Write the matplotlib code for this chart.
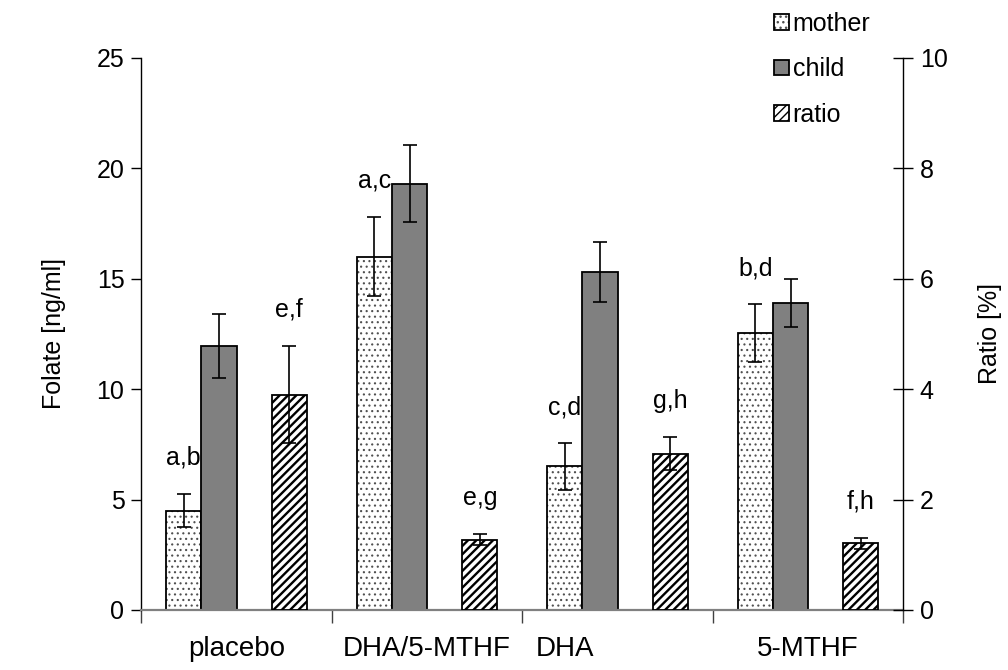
import matplotlib.pyplot as plt
import matplotlib.transforms as mtransforms
from matplotlib.legend_handler import HandlerTuple
import numpy as np

###############################################################################
#  DATA
###############################################################################
groups = ["placebo", "DHA/5-MTHF", "DHA", "5-MTHF"]

mother = [4.5, 16.0, 6.5, 12.55]
mother_err = [0.76, 1.8, 1.05, 1.3]
child = [11.95, 19.3, 15.3, 13.9]
child_err = [1.45, 1.75, 1.35, 1.1]
ratio = [3.9, 1.27, 2.83, 1.21]
ratio_err = [0.88, 0.1, 0.3, 0.1]

mother_letters = ["a,b", "a,c", "c,d", "b,d"]
ratio_letters = ["e,f", "e,g", "g,h", "f,h"]

###############################################################################
#  STYLE
###############################################################################
plt.rcParams['font.family'] = ['Liberation Sans', 'DejaVu Sans']
FONT_SIZE = 18
XLABEL_SIZE = 20
BAR_WIDTH = 0.185
ERR_KW = dict(ecolor="black", elinewidth=1.2, capsize=5, capthick=1.2)


def hatched_bars(axis, x, heights, hatch, hatch_color, hatch_lw):
    """Hatch layer drawn separately so its colour/width can differ from the outline."""
    with plt.rc_context({"hatch.linewidth": hatch_lw}):
        bars = axis.bar(x, heights, BAR_WIDTH, color="white", edgecolor=hatch_color,
                        hatch=hatch, linewidth=0)
    for p in bars:
        if hasattr(p, "set_hatch_linewidth"):
            p.set_hatch_linewidth(hatch_lw)
    return bars


x0 = np.arange(len(groups))

fig = plt.figure(figsize=(10.08, 6.70), dpi=100)
ax = fig.add_axes([0.14, 0.0896, 0.756, 0.824])
ax2 = ax.twinx()

# mother: white with grey dots
h_mother = hatched_bars(ax, x0 + 0.224, mother, "...", "#505050", 0.8)
o_mother = ax.bar(x0 + 0.224, mother, BAR_WIDTH, yerr=mother_err, fill=False,
                  edgecolor="black", linewidth=1.3, error_kw=ERR_KW)
# child: solid grey
b_child = ax.bar(x0 + 0.409, child, BAR_WIDTH, yerr=child_err, color="#808080",
                 edgecolor="black", linewidth=1.3, error_kw=ERR_KW)
# ratio: black stripes on right axis
h_ratio = hatched_bars(ax2, x0 + 0.778, ratio, "////", "black", 1.7)
o_ratio = ax2.bar(x0 + 0.778, ratio, BAR_WIDTH, yerr=ratio_err, fill=False,
                  edgecolor="black", linewidth=1.3, error_kw=ERR_KW)

# significance letters above the error bars
for i in range(len(groups)):
    ax.annotate(mother_letters[i], (x0[i] + 0.224, mother[i] + mother_err[i]),
                xytext=(0, 26), textcoords="offset points", ha="center", va="center",
                fontsize=FONT_SIZE)
    ax2.annotate(ratio_letters[i], (x0[i] + 0.778, ratio[i] + ratio_err[i]),
                 xytext=(0, 26), textcoords="offset points", ha="center", va="center",
                 fontsize=FONT_SIZE)

# axes limits / ticks
ax.set_xlim(0, len(groups))
ax.set_ylim(0, 25)
ax2.set_ylim(0, 10)
ax.set_yticks(np.arange(0, 26, 5))
ax2.set_yticks(np.arange(0, 11, 2))

ax.set_xticks(np.arange(len(groups) + 1))
ax.set_xticklabels([])
ax.set_xticks(x0 + 0.5, minor=True)
ax.set_xticklabels(groups, minor=True)
ax.tick_params(axis="x", which="major", direction="out", length=9, width=1, color="#404040")
ax.tick_params(axis="x", which="minor", length=0, pad=19, labelsize=XLABEL_SIZE)
ax.tick_params(axis="y", direction="out", length=7, width=1, pad=5, labelsize=FONT_SIZE)
ax2.tick_params(axis="y", direction="inout", length=14, width=1, pad=5, labelsize=FONT_SIZE)

# the "DHA" label sits left of its group centre in the original
lab = ax.get_xticklabels(minor=True)[2]
lab.set_transform(lab.get_transform() + mtransforms.ScaledTranslation(-0.52, 0, fig.dpi_scale_trans))

ax.set_ylabel("Folate [ng/ml]", fontsize=FONT_SIZE, labelpad=22)
ax2.set_ylabel("Ratio [%]", fontsize=FONT_SIZE, labelpad=22)

for a in (ax, ax2):
    a.spines["top"].set_visible(False)
ax.spines["right"].set_visible(False)
ax2.spines["left"].set_visible(False)
ax2.spines["bottom"].set_visible(False)
ax.spines["bottom"].set_color("#808080")
ax.spines["bottom"].set_linewidth(1.6)
ax.spines["left"].set_linewidth(1.0)
ax2.spines["right"].set_linewidth(1.0)

fig.legend(handles=[(h_mother[0], o_mother[0]), b_child, (h_ratio[0], o_ratio[0])],
           labels=["mother", "child", "ratio"],
           handler_map={tuple: HandlerTuple(ndivide=1)},
           loc="upper left", bbox_to_anchor=(774 / 1008, 1 - 12 / 670), frameon=False,
           fontsize=FONT_SIZE, handlelength=0.6, handleheight=0.6, handletextpad=0.15,
           labelspacing=0.85, borderpad=0, borderaxespad=0)

fig.savefig("out.png", dpi=100)
